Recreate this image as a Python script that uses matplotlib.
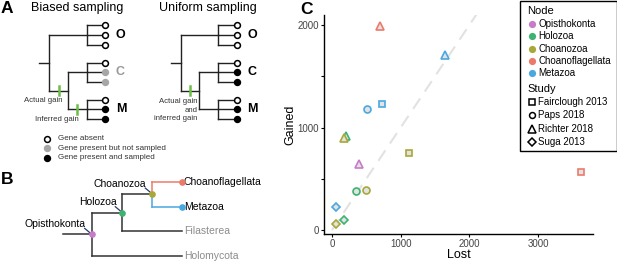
import matplotlib
matplotlib.use("Agg")
import matplotlib.pyplot as plt
from matplotlib.patches import Rectangle

plt.rcParams["font.family"] = ["Liberation Sans", "DejaVu Sans"]

# ---- data ----
nodes = ["Opisthokonta", "Holozoa", "Choanozoa", "Choanoflagellata", "Metazoa"]
node_colors = ["#C77CC8", "#3DB371", "#A8A838", "#EC7A6B", "#4AA8E0"]
studies = ["Fairclough 2013", "Paps 2018", "Richter 2018", "Suga 2013"]
study_markers = ["s", "o", "^", "D"]
study_ms = [4.6, 5.0, 6.2, 4.4]

pt_study = ["Fairclough 2013", "Fairclough 2013", "Fairclough 2013",
            "Paps 2018", "Paps 2018", "Paps 2018",
            "Richter 2018", "Richter 2018", "Richter 2018", "Richter 2018", "Richter 2018",
            "Suga 2013", "Suga 2013", "Suga 2013"]
pt_node = ["Choanozoa", "Metazoa", "Choanoflagellata",
           "Metazoa", "Holozoa", "Choanozoa",
           "Choanoflagellata", "Metazoa", "Holozoa", "Choanozoa", "Opisthokonta",
           "Metazoa", "Holozoa", "Choanozoa"]
lost = [1125, 725, 3620, 510, 355, 500, 700, 1650, 200, 180, 390, 65, 170, 60]
gained = [755, 1230, 570, 1185, 385, 395, 1995, 1705, 920, 900, 640, 228, 98, 56]

# panel A tip states
biased_states = [["absent"] * 3,
                 ["absent", "unsampled", "unsampled"],
                 ["absent", "present", "present"]]
uniform_states = [["absent"] * 3,
                  ["absent", "present", "present"],
                  ["absent", "present", "present"]]
clade_labels = ["O", "C", "M"]
state_names = ["absent", "unsampled", "present"]
state_text = ["Gene absent", "Gene present but not sampled", "Gene present and sampled"]

# panel B tree
tree_b = ("Opisthokonta", [("Holozoa", [("Choanozoa", [("Choanoflagellata", []), ("Metazoa", [])]),
                                        ("Filasterea", [])]),
                           ("Holomycota", [])])

fig = plt.figure(figsize=(6.17, 2.62), dpi=100)

# ---- panel C scatter ----
W, H = 617, 262
ax = fig.add_axes([324 / W, 1 - 234 / H, (593 - 324) / W, (234 - 15) / H])
ax.patch.set_alpha(0)
ax.plot([0, 2150], [0, 2150], color="#e2e2e2", lw=1.5, dashes=(6, 4), zorder=1)
for s, n, x, y in zip(pt_study, pt_node, lost, gained):
    k = studies.index(s)
    ax.plot(x, y, marker=study_markers[k], ms=study_ms[k], mfc="#e3e3e3",
            mec=node_colors[nodes.index(n)], mew=1.2, ls="none", zorder=3)
ax.set_xlim(-116, 3800)
ax.set_ylim(-39, 2098)
ax.set_xticks([0, 1000, 2000, 3000])
ax.set_yticks([0, 500, 1000, 1500, 2000])
ax.set_yticklabels(["0", "", "1000", "", "2000"])
ax.tick_params(labelsize=7, labelcolor="#444444", length=2.5, width=0.8, pad=1)
for sp in ["top", "right"]:
    ax.spines[sp].set_visible(False)
for sp in ["left", "bottom"]:
    ax.spines[sp].set_linewidth(1.0)
ax.set_xlabel("Lost", fontsize=9, labelpad=0)
ax.set_ylabel("Gained", fontsize=9, labelpad=1)

# ---- overlay for diagrams (pixel coordinates) ----
ov = fig.add_axes([0, 0, 1, 1])
ov.patch.set_alpha(0)
ov.set_xlim(0, W)
ov.set_ylim(H, 0)
ov.axis("off")

LINE = "#222222"
GREEN = "#6DBE45"
state_style = {"absent": ("white", "black"),
               "unsampled": ("#a6a6a6", "#a6a6a6"),
               "present": ("black", "black")}


def tip_dot(x, y, state):
    fc, ec = state_style[state]
    ov.plot(x, y, "o", ms=4.2, mfc=fc, mec=ec, mew=1.1, zorder=4)


def sampling_tree(x0, title, states, c_label_color):
    yclade = [35, 72, 109.3]
    ytips = [[25, 35, 44.5], [62.7, 72, 81.5], [99.5, 109.3, 119]]
    xr, xin, xcl, xtip = x0 + 10, x0 + 28.5, x0 + 47.4, x0 + 66
    ov.text(x0 + 37.5, 7.5, title, fontsize=9, ha="center", va="center")
    ov.plot([x0, xr], [62.7, 62.7], color=LINE, lw=1)
    ov.plot([xr, xr], [yclade[0], 90.7], color=LINE, lw=1)
    ov.plot([xr, xcl], [yclade[0], yclade[0]], color=LINE, lw=1)
    ov.plot([xr, xin], [90.7, 90.7], color=LINE, lw=1)
    ov.plot([xin, xin], [yclade[1], yclade[2]], color=LINE, lw=1)
    for i in (1, 2):
        ov.plot([xin, xcl], [yclade[i], yclade[i]], color=LINE, lw=1)
    for i in range(3):
        ov.plot([xcl, xcl], [ytips[i][0], ytips[i][2]], color=LINE, lw=1)
        for yt, st in zip(ytips[i], states[i]):
            ov.plot([xcl, xtip - 2], [yt, yt], color=LINE, lw=1)
            tip_dot(xtip, yt, st)
        col = c_label_color if clade_labels[i] == "C" else "black"
        ov.text(x0 + 76.5, yclade[i], clade_labels[i], fontsize=9, fontweight="bold",
                color=col, ha="left", va="center")
    # gain tick on the stem of C+M
    ov.plot([x0 + 19.2, x0 + 19.2], [86, 95], color=GREEN, lw=1.8, zorder=5)
    return x0, xin


x0a, xin_a = sampling_tree(39.3, "Biased sampling", biased_states, "#999999")
ov.plot([xin_a + 9, xin_a + 9], [105, 114], color=GREEN, lw=1.8, zorder=5)
ov.text(43.5, 100.5, "Actual gain", fontsize=5.6, color="#333333", ha="center", va="center")
ov.text(57, 119.5, "Inferred gain", fontsize=5.6, color="#333333", ha="center", va="center")

sampling_tree(170.7, "Uniform sampling", uniform_states, "black")
ov.text(197.5, 110, "Actual gain\nand\ninferred gain", fontsize=5.6, color="#333333",
        ha="right", va="center", multialignment="right", linespacing=1.25)

# gene state legend
for i, (st, txt) in enumerate(zip(state_names, state_text)):
    y = 139 + 9.3 * i
    tip_dot(47.3, y, st)
    ov.text(58.3, y, txt, fontsize=5.8, color="#333333", ha="left", va="center")

# ---- panel B tree ----
tip_y = {}
order = []


def collect(t):
    name, kids = t
    if not kids:
        order.append(name)
    for k in kids:
        collect(k)


collect(tree_b)
for i, name in enumerate(order):
    tip_y[name] = 181.7 + 24.8 * i

X_LEVEL = [91.7, 122.3, 152.3]
X_TIP = 181.5
pos = {}


def layout(t, depth):
    name, kids = t
    if not kids:
        pos[name] = (X_TIP, tip_y[name])
        return tip_y[name]
    ys = [layout(k, depth + 1) for k in kids]
    y = sum(ys) / len(ys)
    pos[name] = (X_LEVEL[depth], y)
    return y


layout(tree_b, 0)


def branch_color(name):
    return node_colors[nodes.index(name)] if name in ("Choanoflagellata", "Metazoa") else "#333333"


def draw_b(t):
    name, kids = t
    px, py = pos[name]
    for k in kids:
        kx, ky = pos[k[0]]
        c = branch_color(k[0])
        ov.plot([px, px], [py, ky], color=c, lw=1.1, zorder=2)
        ov.plot([px, kx], [ky, ky], color=c, lw=1.1, zorder=2)
        draw_b(k)


ov.plot([63.3, pos["Opisthokonta"][0]], [pos["Opisthokonta"][1]] * 2, color="#333333", lw=1.1)
draw_b(tree_b)
for name, c in zip(nodes, node_colors):
    x, y = pos[name]
    ov.plot(x, y, "o", ms=4.8, color=c, mec="none", zorder=5)
    if name in ("Choanoflagellata", "Metazoa"):
        ov.text(x + 2.5, y, name, fontsize=7.5, ha="left", va="center")
    else:
        ov.plot([x - 7, x - 1], [y - 6, y - 1], color="#2B3A6B", lw=0.9, zorder=4)
        ov.text(x - 6, y - 10.5, name, fontsize=7.5, ha="right", va="center")
for name in ("Filasterea", "Holomycota"):
    x, y = pos[name]
    ov.text(x + 3, y, name, fontsize=7.5, color="#8c8c8c", ha="left", va="center")

# ---- panel C legend ----
ov.add_patch(Rectangle((520, 1), 96.5, 149.5, fill=False, ec="black", lw=1))
ov.text(527, 11.5, "Node", fontsize=8, ha="left", va="center")
for i, (name, c) in enumerate(zip(nodes, node_colors)):
    y = 24 + 12.3 * i
    ov.plot(531.7, y, "o", ms=5.2, color=c, mec="none")
    ov.text(538.5, y, name, fontsize=7, ha="left", va="center")
ov.text(527, 89, "Study", fontsize=8, ha="left", va="center")
for i, (name, m, ms) in enumerate(zip(studies, study_markers, study_ms)):
    y = 102.3 + 13.1 * i
    ov.plot(531.7, y + (0.8 if m == "^" else 0), marker=m, ms=ms * 0.85, mfc="none",
            mec="black", mew=1.1, ls="none")
    ov.text(538.5, y, name, fontsize=7, ha="left", va="center")

# panel letters
ov.text(0.5, 8.5, "A", fontsize=12.5, fontweight="bold", ha="left", va="center")
ov.text(0.5, 180, "B", fontsize=12.5, fontweight="bold", ha="left", va="center")
ov.text(300, 10, "C", fontsize=12.5, fontweight="bold", ha="left", va="center")

fig.savefig("out.png", dpi=100)
